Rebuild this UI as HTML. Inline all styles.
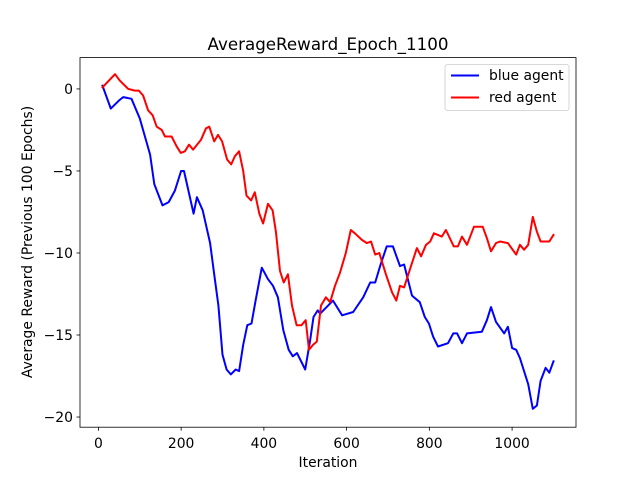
<!DOCTYPE html>
<html><head><meta charset="utf-8"><style>
html,body{margin:0;padding:0;background:#fff;}
svg{display:block;font-family:"DejaVu Sans","Liberation Sans",sans-serif;}
</style></head><body>
<svg id="chart" width="640" height="480" xmlns="http://www.w3.org/2000/svg">
<rect width="640" height="480" fill="#fff"/>
<text x="328" y="50" font-size="16.7" text-anchor="middle">AverageReward_Epoch_1100</text>
<g id="plot"></g>
<text x="328" y="467" font-size="13.9" text-anchor="middle">Iteration</text>
<text transform="translate(32,242) rotate(-90)" font-size="13.9" text-anchor="middle">Average Reward (Previous 100 Epochs)</text>
</svg>
<script>
const xTicks=[0,200,400,600,800,1000];
const yTicks=[0,-5,-10,-15,-20];
const blueX=[10,30,50,60,80,100,125,135,155,170,185,200,207,230,238,252,270,280,290,300,310,320,332,340,350,360,370,380,395,410,422,434,447,460,470,480,500,512,520,530,536,567,589,616,640,657,669,681,697,712,729,739,758,777,789,799,809,821,845,858,867,879,891,927,939,949,961,981,990,1000,1010,1019,1039,1050,1060,1069,1081,1090,1100];
const blueY=[0.2,-1.2,-0.7,-0.5,-0.6,-1.8,-4.0,-5.8,-7.1,-6.9,-6.2,-5.0,-5.0,-7.6,-6.6,-7.4,-9.4,-11.3,-13.2,-16.2,-17.1,-17.4,-17.1,-17.2,-15.6,-14.4,-14.3,-12.9,-10.9,-11.6,-12.0,-12.7,-14.7,-15.9,-16.3,-16.1,-17.1,-15.3,-13.9,-13.5,-13.7,-12.9,-13.8,-13.6,-12.7,-11.8,-11.8,-10.8,-9.6,-9.6,-10.8,-10.7,-12.6,-13.0,-13.9,-14.3,-15.1,-15.7,-15.5,-14.9,-14.9,-15.5,-14.9,-14.8,-14.1,-13.3,-14.2,-14.9,-14.5,-15.8,-15.9,-16.4,-18.0,-19.5,-19.3,-17.8,-17.0,-17.3,-16.6];
const redX=[10,40,52,72,88,98,108,120,131,141,153,161,177,189,199,209,219,229,248,260,268,280,289,299,311,321,330,340,350,358,369,378,389,398,410,421,429,439,448,458,468,479,491,501,509,519,528,538,550,560,572,584,598,610,620,637,649,659,669,679,695,710,720,729,739,753,770,780,792,802,811,830,840,859,869,879,891,908,929,939,949,961,971,990,1010,1019,1029,1039,1050,1060,1069,1090,1100];
const redY=[0.1,0.9,0.5,0.0,-0.1,-0.1,-0.4,-1.3,-1.6,-2.3,-2.5,-2.9,-2.9,-3.5,-3.9,-3.8,-3.4,-3.7,-3.1,-2.4,-2.3,-3.2,-2.8,-3.2,-4.3,-4.6,-4.1,-3.8,-5.0,-6.5,-6.8,-6.3,-7.6,-8.2,-7.0,-7.4,-8.7,-11.1,-11.8,-11.3,-13.2,-14.4,-14.4,-14.1,-15.9,-15.6,-15.4,-13.2,-12.7,-13.0,-12.0,-11.2,-10.0,-8.6,-8.8,-9.2,-9.4,-9.3,-10.1,-10.0,-11.3,-12.4,-12.9,-12.0,-12.1,-11.0,-9.7,-10.2,-9.5,-9.3,-8.8,-9.0,-8.6,-9.6,-9.6,-9.0,-9.5,-8.4,-8.4,-9.1,-9.9,-9.4,-9.3,-9.4,-10.1,-9.5,-9.8,-9.5,-7.8,-8.7,-9.3,-9.3,-8.9];
const L=80,R=576,T=57.6,B=427.2;
const xmin=-44.5,xmax=1154.5,ymax=1.91,ymin=-20.62;
function sx(v){return L+(v-xmin)/(xmax-xmin)*(R-L);}
function sy(v){return T+(ymax-v)/(ymax-ymin)*(B-T);}
const NS='http://www.w3.org/2000/svg';
const g=document.getElementById('plot');
function mk(tag,attrs,parent){const e=document.createElementNS(NS,tag);for(const k in attrs)e.setAttribute(k,attrs[k]);(parent||g).appendChild(e);return e;}
xTicks.forEach(t=>{
  const x=sx(t);
  const l=mk('line',{x1:x,x2:x,y1:B,y2:B+3.5,stroke:'#000','stroke-width':0.8});
  
  
  const tx=mk('text',{x:x,y:B+21,'font-size':13.9,'text-anchor':'middle'});
  tx.textContent=t;
  
  
});
yTicks.forEach(t=>{
  const y=sy(t);
  const l=mk('line',{x1:L-3.5,x2:L,y1:y,y2:y,stroke:'#000','stroke-width':0.8});
  
  
  const tx=mk('text',{x:L-7,y:y+5,'font-size':13.9,'text-anchor':'end'});
  tx.textContent=(t<0?'\u2212'+(-t):t);
  
  
});
function series(xs,ys,color,name){
  const d=xs.map((x,i)=>(i?'L':'M')+sx(x).toFixed(1)+','+sy(ys[i]).toFixed(1)).join(' ');
  const p=mk('path',{d:d,fill:'none',stroke:color,'stroke-width':2,'stroke-linejoin':'round','stroke-linecap':'square'});
  
  
}
series(blueX,blueY,'#0000ff','blue-agent-line');
series(redX,redY,'#ff0000','red-agent-line');
const fr=mk('rect',{x:L,y:T,width:R-L,height:B-T,fill:'none',stroke:'#000','stroke-width':0.8});


const lg=mk('g',{});


mk('rect',{x:445,y:64.5,width:124,height:46,rx:2.5,fill:'#fff','fill-opacity':0.8,stroke:'#ccc','stroke-width':0.8},lg);
const e1=mk('g',{},lg);


mk('line',{x1:451,x2:479,y1:75.5,y2:75.5,stroke:'#0000ff','stroke-width':2},e1);
const t1=mk('text',{x:489,y:80,'font-size':13.9},e1);t1.textContent='blue agent';
const e2=mk('g',{},lg);


mk('line',{x1:451,x2:479,y1:97.5,y2:97.5,stroke:'#ff0000','stroke-width':2},e2);
const t2=mk('text',{x:489,y:102,'font-size':13.9},e2);t2.textContent='red agent';
</script>
</body></html>
